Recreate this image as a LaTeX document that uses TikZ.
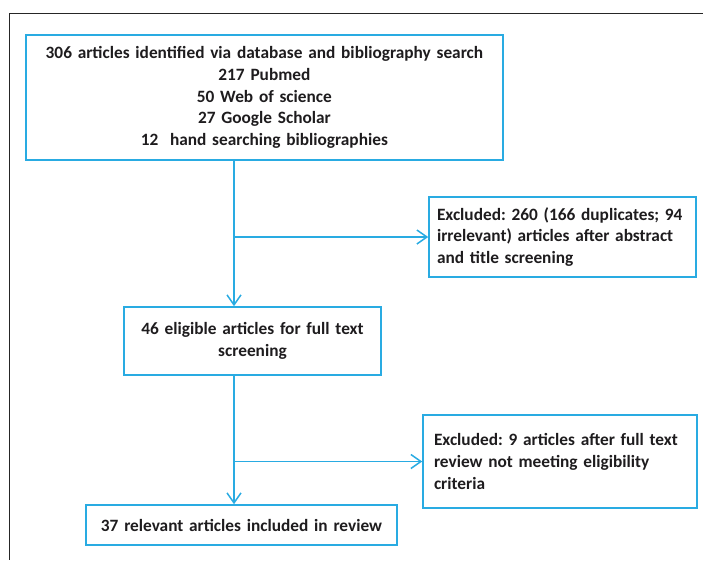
\documentclass[tikz,border=0pt]{standalone}
\usepackage{fontspec}
\setmainfont{Carlito}
\frenchspacing
\usetikzlibrary{arrows.meta,positioning}
\definecolor{flowblue}{RGB}{41,171,226}
\definecolor{flowtext}{RGB}{30,28,30}
\tikzset{
 flowbox/.style={draw=flowblue,line width=1.6pt,text=flowtext,
  font=\fontsize{17.3}{21.6}\selectfont\bfseries,inner xsep=10pt,inner ysep=0pt,align=center},
 flowleft/.style={flowbox,align=left},
 flow/.style={flowblue,line width=1.5pt,-{Straight Barb[length=10pt,width=14pt]}}
}

\begin{document}
\begin{tikzpicture}[x=1pt,y=-1pt,line join=miter]
\useasboundingbox (0,0) rectangle (703,560);
\draw[black!85,line width=1.5pt] (703,13.5)--(9.7,13.5)--(9.7,560);
\node[flowbox,text width=457pt,minimum height=125pt] (ident) at (264.4,97.5)
 {306 articles identified via database and bibliography search\\217 Pubmed\\50 Web of science\\27 Google Scholar\\12~ hand searching bibliographies};
\node[flowleft,text width=251pt,inner xsep=8pt,minimum height=80pt] (excl1) at (562.5,237)
 {Excluded: 260 (166 duplicates; 94\\irrelevant) articles after abstract\\and title screening};
\node[flowbox,text width=237pt,minimum height=68pt] (eligible) at (252.5,341)
 {46 eligible articles for full text\\screening};
\node[flowleft,text width=252pt,inner xsep=11pt,minimum height=93pt] (excl2) at (560,461.5)
 {Excluded: 9 articles after full text\\review not meeting eligibility\\criteria};
\node[flowbox,text width=291pt,minimum height=40pt] (included) at (241.5,525)
 {37 relevant articles included in review};
\coordinate (trunk) at (234,0);
\draw[flow] (ident.south -| trunk)--(eligible.north -| trunk);
\draw[flow] (excl1.west -| trunk)--(excl1.west);
\draw[flow] (eligible.south -| trunk)--(included.north -| trunk);
\draw[flow] (excl2.west -| trunk)--(excl2.west);
\end{tikzpicture}
\end{document}
